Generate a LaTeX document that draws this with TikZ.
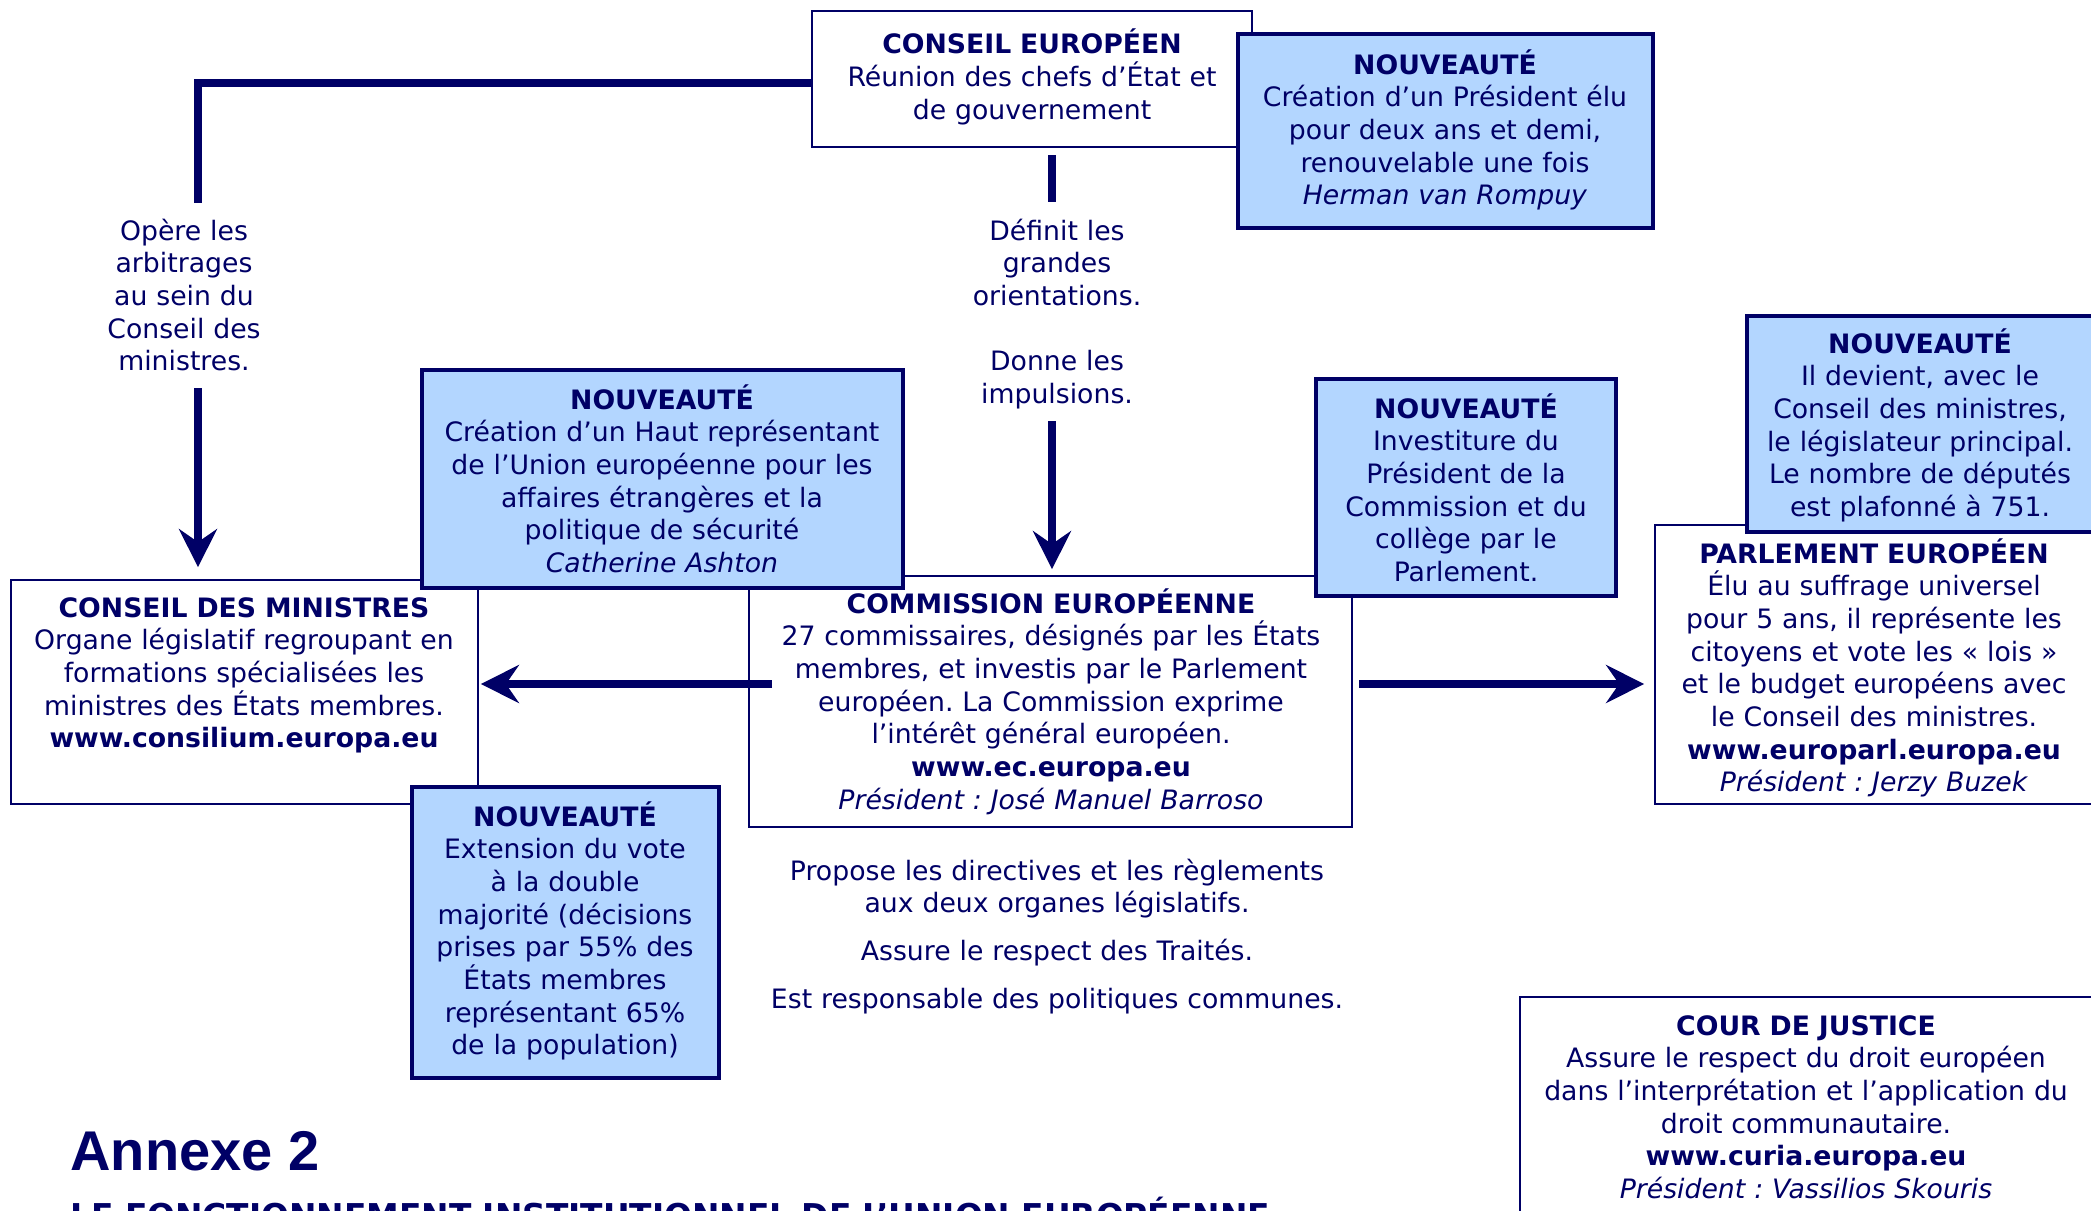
\documentclass[tikz,border=0pt]{standalone}
\usepackage{fontspec}
\setmainfont{DejaVu Sans}
\newfontfamily\annexfont{Liberation Sans}
\usetikzlibrary{arrows.meta}
\definecolor{navy}{RGB}{0,0,102}
\definecolor{nouvfill}{RGB}{179,214,255}
\frenchspacing
\begin{document}
\begin{tikzpicture}[x=0.5pt,y=-0.5pt,
  wbox/.style={draw=navy, line width=0.9pt, fill=white, inner sep=0pt},
  nbox/.style={draw=navy, line width=2pt, fill=nouvfill, inner sep=0pt},
  txt/.style={text=navy, font=\fontsize{13.35}{16.35}\selectfont\frenchspacing, align=center, inner sep=0pt, anchor=base, text width=#1},
  conn/.style={draw=navy, line width=4pt},
  arr/.style={conn, -{Stealth[length=19pt, width=19pt, inset=6.5pt]}}
]
\useasboundingbox (0,0) rectangle (2091,1210);
\clip (0,0) rectangle (2091,1210);

% white boxes
\node[wbox, minimum width=220pt, minimum height=68pt] (ce) at (1032,79) {};
\node[wbox, minimum width=233.5pt, minimum height=112pt] (cm) at (244.5,692) {};
\node[wbox, minimum width=301.5pt, minimum height=125.5pt] (com) at (1050.5,701.5) {};
\node[wbox, minimum width=225pt, minimum height=139.5pt] (parl) at (1880,664.5) {};
\node[wbox, minimum width=292.5pt, minimum height=116.5pt] (cour) at (1812.5,1113.5) {};

% nouveaute boxes
\node[nbox, minimum width=207.5pt, minimum height=97pt] (n1) at (1445.5,131) {};
\node[nbox, minimum width=240.5pt, minimum height=109pt] (nhr) at (662.5,479) {};
\node[nbox, minimum width=150pt, minimum height=108.5pt] (ninv) at (1466,487.5) {};
\node[nbox, minimum width=179pt, minimum height=108pt] (nparl) at (1926,424) {};
\node[nbox, minimum width=153.5pt, minimum height=145.5pt] (ndm) at (565.5,932.5) {};

% texts
\node[txt=215pt] (cet) at (1032,54) {\textbf{CONSEIL EUROPÉEN}\\Réunion des chefs d’État et\\de gouvernement};
\node[txt=205pt] (n1t) at (1445,74) {\textbf{NOUVEAUTÉ}\\Création d’un Président élu\\pour deux ans et demi,\\renouvelable une fois\\\textit{Herman van Rompuy}};
\node[txt=120pt] (opt) at (184,240) {Opère les\\arbitrages\\au sein du\\Conseil des\\ministres.};
\node[txt=120pt] (deft) at (1057,240) {Définit les\\grandes\\orientations.\\[16.35pt]Donne les\\impulsions.};
\node[txt=240pt] (nhrt) at (662,409) {\textbf{NOUVEAUTÉ}\\Création d’un Haut représentant\\de l’Union européenne pour les\\affaires étrangères et la\\politique de sécurité\\\textit{Catherine Ashton}};
\node[txt=150pt] (ninvt) at (1466,418) {\textbf{NOUVEAUTÉ}\\Investiture du\\Président de la\\Commission et du\\collège par le\\Parlement.};
\node[txt=175pt] (nparlt) at (1920,353) {\textbf{NOUVEAUTÉ}\\Il devient, avec le\\Conseil des ministres,\\le législateur principal.\\Le nombre de députés\\est plafonné à 751.};
\node[txt=233pt] (cmt) at (244,617) {\textbf{CONSEIL DES MINISTRES}\\Organe législatif regroupant en\\formations spécialisées les\\ministres des États membres.\\\textbf{www.consilium.europa.eu}};
\node[txt=300pt] (comt) at (1051,613) {\textbf{COMMISSION EUROPÉENNE}\\27 commissaires, désignés par les États\\membres, et investis par le Parlement\\européen. La Commission exprime\\l’intérêt général européen.\\\textbf{www.ec.europa.eu}\\\textit{Président : José Manuel Barroso}};
\node[txt=220pt] (parlt) at (1874,563) {\textbf{PARLEMENT EUROPÉEN}\\Élu au suffrage universel\\pour 5 ans, il représente les\\citoyens et vote les « lois »\\et le budget européens avec\\le Conseil des ministres.\\\textbf{www.europarl.europa.eu}\\\textit{Président : Jerzy Buzek}};
\node[txt=153pt] (ndmt) at (565,826) {\textbf{NOUVEAUTÉ}\\Extension du vote\\à la double\\majorité (décisions\\prises par 55\% des\\États membres\\représentant 65\%\\de la population)};
\node[txt=300pt] (prop) at (1057,880) {Propose les directives et les règlements\\aux deux organes législatifs.\\[7.5pt]Assure le respect des Traités.\\[7.5pt]Est responsable des politiques communes.};
\node[txt=290pt] (court) at (1806,1035) {\textbf{COUR DE JUSTICE}\\Assure le respect du droit européen\\dans l’interprétation et l’application du\\droit communautaire.\\\textbf{www.curia.europa.eu}\\\textit{Président : Vassilios Skouris}};

\node[text=navy, font=\annexfont\bfseries\fontsize{28}{34}\selectfont, anchor=base west, inner sep=0pt] (annexe) at (70,1170) {Annexe 2};
\node[text=navy, font=\bfseries\fontsize{16.4}{20}\selectfont, anchor=base west, inner sep=0pt] (titre) at (70,1227) {LE FONCTIONNEMENT INSTITUTIONNEL DE L’UNION EUROPÉENNE};

% connectors
\coordinate (lcorner) at (198,203);
\coordinate (lstart) at (198,388);
\coordinate (mbar1) at (1052,155);
\coordinate (mbar2) at (1052,202);
\coordinate (mstart) at (1052,421);
\coordinate (lastart) at (772,684);
\coordinate (rastart) at (1359,684);

\draw[conn] ([yshift=-2pt]ce.west) -| (lcorner);
\draw[arr] (lstart) -- ([yshift=6pt]lstart |- cm.north);
\draw[conn] (mbar1) -- (mbar2);
\draw[arr] (mstart) -- ([yshift=3pt]mstart |- com.north);
\draw[arr] (lastart) -- ([xshift=1pt]cm.east |- lastart);
\draw[arr] (rastart) -- ([xshift=-5pt]parl.west |- rastart);
\end{tikzpicture}
\end{document}
